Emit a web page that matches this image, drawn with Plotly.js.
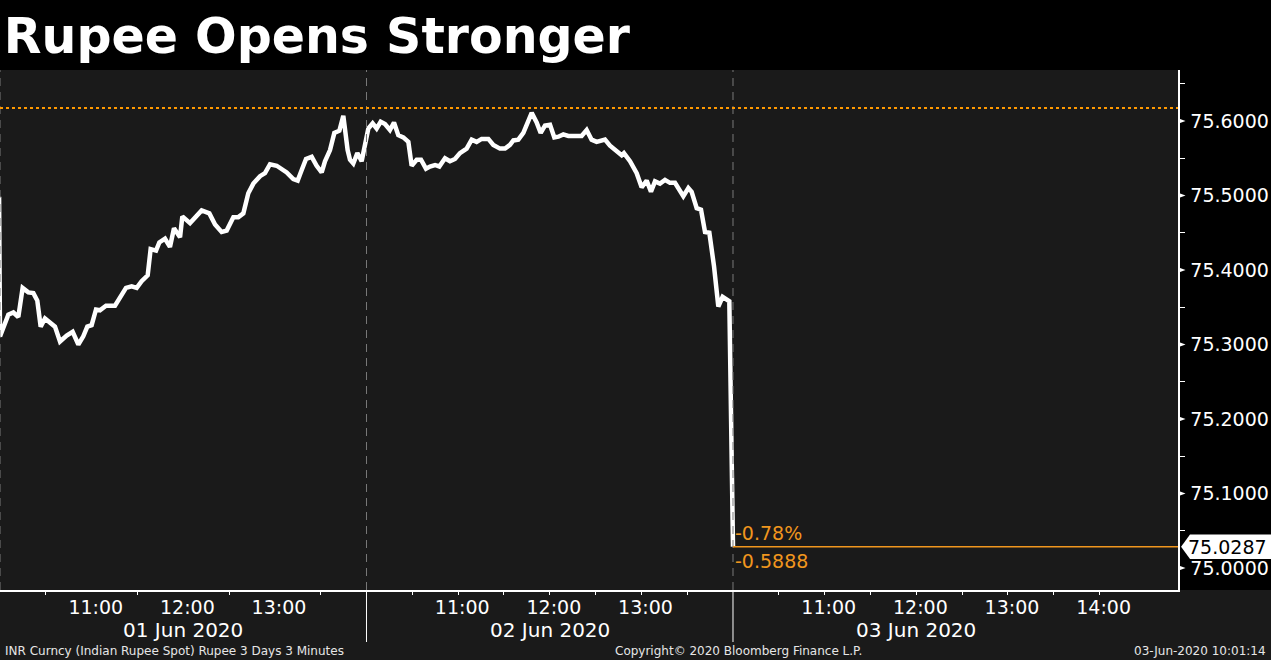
<!DOCTYPE html>
<html>
<head>
<meta charset="utf-8">
<script src="https://cdn.plot.ly/plotly-3.0.1.min.js"></script>
<style>
  html, body { margin: 0; padding: 0; background: #000; }
  #chart { width: 1271px; height: 660px; }
</style>
</head>
<body>
<div id="chart"></div>
<script>
// ---------------- DATA ----------------
const chartTitle = 'Rupee Opens Stronger';
const dayLabels = ['01 Jun 2020', '02 Jun 2020', '03 Jun 2020'];

// hours after session open (10:00) within each day
const day1Offsets = [-0.01, 0.000, 0.091, 0.146, 0.200, 0.247, 0.309, 0.364, 0.407, 0.444, 0.491, 0.546, 0.600, 0.655, 0.728, 0.793, 0.855, 0.909, 0.953, 1.000,
  1.048, 1.091, 1.157, 1.255, 1.310, 1.375, 1.437, 1.492, 1.546, 1.612, 1.644, 1.703, 1.739, 1.801, 1.855, 1.899, 1.965, 1.990, 2.074, 2.146,
  2.201, 2.285, 2.347, 2.419, 2.474, 2.547, 2.601, 2.656, 2.710, 2.765, 2.838, 2.892, 2.947, 3.020, 3.129, 3.201, 3.249, 3.292, 3.340, 3.402,
  3.456, 3.511, 3.547, 3.602, 3.649, 3.704, 3.747, 3.794, 3.820, 3.856, 3.900, 3.947, 3.984];
const day1Values = [75.4985, 75.311, 75.340, 75.343, 75.337, 75.376, 75.370, 75.369, 75.359, 75.324, 75.335, 75.329, 75.324, 75.304, 75.312, 75.317, 75.300, 75.311, 75.324, 75.326,
  75.347, 75.346, 75.352, 75.352, 75.364, 75.376, 75.378, 75.376, 75.385, 75.393, 75.428, 75.426, 75.437, 75.442, 75.431, 75.456, 75.444, 75.472, 75.463, 75.472,
  75.480, 75.476, 75.461, 75.451, 75.453, 75.471, 75.471, 75.476, 75.503, 75.516, 75.526, 75.530, 75.542, 75.540, 75.531, 75.522, 75.520, 75.534, 75.549, 75.552,
  75.540, 75.531, 75.546, 75.561, 75.584, 75.587, 75.607, 75.561, 75.548, 75.543, 75.557, 75.546, 75.570];

const day2Offsets = [0.020, 0.067, 0.111, 0.155, 0.202, 0.256, 0.300, 0.347, 0.402, 0.457, 0.493, 0.548, 0.595, 0.649, 0.693, 0.748, 0.795, 0.857, 0.911, 0.966,
  1.020, 1.093, 1.148, 1.202, 1.257, 1.330, 1.384, 1.457, 1.512, 1.566, 1.603, 1.657, 1.712, 1.803, 1.857, 1.901, 1.948, 2.003, 2.050, 2.094,
  2.148, 2.203, 2.258, 2.348, 2.403, 2.457, 2.512, 2.603, 2.658, 2.730, 2.785, 2.810, 2.876, 2.949, 3.003, 3.058, 3.105, 3.149, 3.203, 3.258,
  3.312, 3.367, 3.421, 3.458, 3.513, 3.549, 3.604, 3.651, 3.695, 3.742, 3.793, 3.840, 3.887, 3.960];
const day2Values = [75.590, 75.597, 75.590, 75.599, 75.596, 75.588, 75.598, 75.581, 75.578, 75.572, 75.540, 75.548, 75.548, 75.536, 75.539, 75.541, 75.539, 75.550, 75.546, 75.549,
  75.557, 75.563, 75.575, 75.572, 75.576, 75.576, 75.568, 75.563, 75.563, 75.568, 75.574, 75.575, 75.584, 75.611, 75.598, 75.584, 75.594, 75.595, 75.578, 75.579,
  75.582, 75.580, 75.580, 75.580, 75.588, 75.575, 75.572, 75.575, 75.567, 75.559, 75.554, 75.557, 75.546, 75.530, 75.511, 75.520, 75.505, 75.519, 75.516, 75.521,
  75.517, 75.517, 75.505, 75.499, 75.510, 75.505, 75.483, 75.481, 75.451, 75.450, 75.405, 75.351, 75.364, 75.358];

const day3Offsets = [0.0];
const day3Values = [75.0287];

const prevClose = 75.6175;
const lastPrice = 75.0287;

const yTickVals = [75.0, 75.1, 75.2, 75.3, 75.4, 75.5, 75.6];
const yMinorVals = [75.05, 75.15, 75.25, 75.35, 75.45, 75.55, 75.65];
const timeLabels = [
  ['11:00', '12:00', '13:00'],
  ['11:00', '12:00', '13:00'],
  ['11:00', '12:00', '13:00', '14:00']
];
const halfHourTicks = [
  [0.5, 1.5, 2.5, 3.5],
  [0.5, 1.0, 1.5, 2.0, 2.5, 3.0, 3.5],
  [0.5, 1.0, 1.5, 2.0, 2.5, 3.0, 3.5, 4.0]
];
const footerLeft = 'INR Curncy (Indian Rupee Spot) Rupee 3 Days 3 Minutes';
const footerMid = 'Copyright\u00A9 2020 Bloomberg Finance L.P.';
const footerRight = '03-Jun-2020 10:01:14';

// ---------------- BUILD ----------------
const DAY_LEN = 4; // hours per session on the compressed axis
const xs = [], ys = [];
[[day1Offsets, day1Values], [day2Offsets, day2Values], [day3Offsets, day3Values]].forEach(([offs, vals], d) => {
  offs.forEach((o, i) => { xs.push(d * DAY_LEN + o); ys.push(vals[i]); });
});

const X_MAX = 12.857;
const Y_MIN = 74.9705, Y_MAX = 75.6685;

const tickvals = [], ticktext = [];
timeLabels.forEach((labs, d) => labs.forEach(l => {
  tickvals.push(d * DAY_LEN + (parseInt(l, 10) - 10) + 0.045);
  ticktext.push(l);
}));
const minorVals = [];
halfHourTicks.forEach((arr, d) => arr.forEach(h => minorVals.push(d * DAY_LEN + h)));

const FONT = 'DejaVu Sans, Verdana, sans-serif';
const ORANGE = '#f0961e';

const shapes = [];
// bottom grey band
shapes.push({type: 'rect', xref: 'paper', yref: 'paper', x0: -0.01, x1: 1.1, y0: -0.2, y1: 0,
  fillcolor: '#1a1a1a', line: {width: 0}, layer: 'below'});
// day dividers
[0, 1, 2].forEach(d => {
  shapes.push({type: 'line', xref: 'x', yref: 'paper', x0: d * DAY_LEN, x1: d * DAY_LEN, y0: 0, y1: 1,
    line: {color: '#7a7a7a', width: 1, dash: '8px,6px'}});
  if (d > 0) {
    shapes.push({type: 'line', xref: 'x', yref: 'paper', x0: d * DAY_LEN, x1: d * DAY_LEN, y0: 0, y1: -0.1,
      line: {color: '#ffffff', width: 1}});
  }
});
// previous close dotted line
shapes.push({type: 'line', xref: 'paper', yref: 'y', x0: 0, x1: 1, y0: prevClose, y1: prevClose,
  line: {color: '#ff9900', width: 2, dash: 'dot'}});
// last price line
shapes.push({type: 'line', xref: 'x', yref: 'y', x0: xs[xs.length - 1], x1: X_MAX, y0: lastPrice, y1: lastPrice,
  line: {color: ORANGE, width: 1.5}});
// y tick arrows
yTickVals.forEach(v => {
  shapes.push({type: 'path', xref: 'paper', yref: 'y',
    path: `M 1.0 ${v + 0.0036} L 1.0064 ${v} L 1.0 ${v - 0.0036} Z`,
    fillcolor: '#ffffff', line: {width: 0}});
});
// last price box
shapes.push({type: 'path', xref: 'paper', yref: 'y',
  path: `M 1.0026 ${lastPrice} L 1.0102 ${lastPrice + 0.0162} L 1.08 ${lastPrice + 0.0162} L 1.08 ${lastPrice - 0.0165} L 1.0102 ${lastPrice - 0.0165} Z`,
  fillcolor: '#ffffff', line: {width: 0}});

const chg = lastPrice - prevClose;
const pct = chg / prevClose * 100;

const annotations = [];
dayLabels.forEach((t, d) => annotations.push({
  text: t, xref: 'x', yref: 'paper', x: d * DAY_LEN + DAY_LEN / 2, y: -0.077, xanchor: 'center', yanchor: 'middle',
  showarrow: false, font: {family: FONT, size: 20, color: '#ffffff'}
}));
annotations.push({text: pct.toFixed(2) + '%', xref: 'x', yref: 'y', x: xs[xs.length - 1], y: lastPrice,
  xanchor: 'left', yanchor: 'bottom', xshift: 0, yshift: 1, showarrow: false,
  font: {family: FONT, size: 19, color: ORANGE}});
annotations.push({text: chg.toFixed(4), xref: 'x', yref: 'y', x: xs[xs.length - 1], y: lastPrice,
  xanchor: 'left', yanchor: 'top', yshift: -1, showarrow: false,
  font: {family: FONT, size: 19, color: ORANGE}});
annotations.push({text: lastPrice.toFixed(4), xref: 'paper', yref: 'y', x: 1.0424, y: lastPrice,
  xanchor: 'center', yanchor: 'middle', showarrow: false,
  font: {family: FONT, size: 19, color: '#000000'}});
annotations.push({text: footerLeft, xref: 'paper', yref: 'paper', x: 0.0025, y: -0.1173, xanchor: 'left', yanchor: 'middle',
  showarrow: false, font: {family: FONT, size: 12, color: '#e6e6e6'}});
annotations.push({text: footerMid, xref: 'paper', yref: 'paper', x: 0.627, y: -0.1173, xanchor: 'center', yanchor: 'middle',
  showarrow: false, font: {family: FONT, size: 12, color: '#e6e6e6'}});
annotations.push({text: footerRight, xref: 'paper', yref: 'paper', x: 1.0764, y: -0.1173, xanchor: 'right', yanchor: 'middle',
  showarrow: false, font: {family: FONT, size: 12, color: '#e6e6e6'}});

const trace = {
  x: xs, y: ys, type: 'scatter', mode: 'lines',
  line: {color: '#ffffff', width: 4.5, shape: 'linear'},
  hoverinfo: 'skip', cliponaxis: true
};

const layout = {
  width: 1271, height: 660,
  margin: {l: 0, r: 93, t: 70, b: 70, pad: 0},
  paper_bgcolor: '#000000',
  plot_bgcolor: '#1a1a1a',
  showlegend: false,
  title: {
    text: '<b>' + chartTitle + '</b>',
    font: {family: FONT, size: 49, color: '#ffffff'},
    xref: 'container', yref: 'container', x: 0.003, xanchor: 'left', y: 0.945, yanchor: 'middle'
  },
  xaxis: {
    range: [0, X_MAX], showgrid: false, zeroline: false,
    showline: true, linecolor: '#ffffff', linewidth: 1.5,
    tickmode: 'array', tickvals: tickvals, ticktext: ticktext, ticks: '',
    tickfont: {family: FONT, size: 19, color: '#ffffff'},
    minor: {tickmode: 'array', tickvals: minorVals, ticks: 'outside', ticklen: 3, tickcolor: '#ffffff', tickwidth: 1, showgrid: false},
    fixedrange: true
  },
  yaxis: {
    side: 'right', range: [Y_MIN, Y_MAX], showgrid: false, zeroline: false,
    showline: true, linecolor: '#ffffff', linewidth: 1.5,
    tickmode: 'array', tickvals: yTickVals, ticktext: yTickVals.map(v => v.toFixed(4)),
    ticks: 'outside', ticklen: 7, tickcolor: 'rgba(0,0,0,0)',
    tickfont: {family: FONT, size: 19, color: '#ffffff'},
    minor: {tickmode: 'array', tickvals: yMinorVals, ticks: 'outside', ticklen: 5, tickcolor: '#ffffff', tickwidth: 1, showgrid: false},
    fixedrange: true
  },
  shapes: shapes,
  annotations: annotations
};

Plotly.newPlot('chart', [trace], layout, {staticPlot: true, displayModeBar: false});
</script>
</body>
</html>
